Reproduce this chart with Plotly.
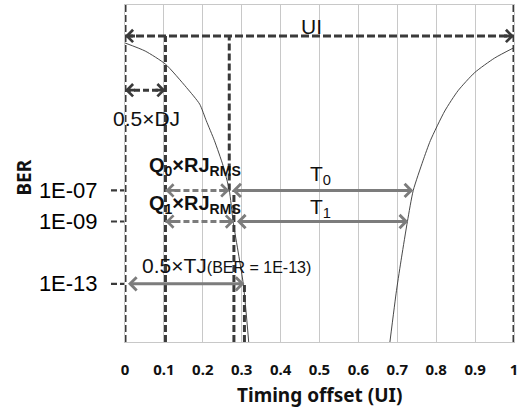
import plotly.graph_objects as go

# ---------------- data ----------------
# left bathtub branch (timing offset in UI, log10 BER – schematic scale)
left_x = [0.000, 0.052, 0.104, 0.158, 0.192, 0.209, 0.230, 0.252, 0.268, 0.278, 0.304, 0.318]
left_log = [2.47, 1.95, 1.11, -0.39, -1.46, -2.53, -3.81, -5.4, -6.97, -9.0, -13.0, -16.74]
# right bathtub branch
right_x = [0.681, 0.698, 0.711, 0.726, 0.741, 0.766, 0.785, 0.822, 0.856, 0.899, 0.95, 1.0]
right_log = [-16.74, -13.42, -11.29, -9.0, -7.0, -5.1, -3.8, -1.9, -0.6, 0.57, 1.5, 2.17]

x_ticks = [0, 0.1, 0.2, 0.3, 0.4, 0.5, 0.6, 0.7, 0.8, 0.9, 1.0]
x_tick_text = ["0", "0.1", "0.2", "0.3", "0.4", "0.5", "0.6", "0.7", "0.8", "0.9", "1"]
y_ticks = [-7, -9, -13]
y_tick_text = ["1E-07", "1E-09", "1E-13"]

y_range = [-16.74, 4.91]

# key positions (UI)
ui_level = 2.92           # level of the UI arrow
dj_level = -0.56          # level of the 0.5xDJ arrow
dj_x = 0.104              # 0.5 x DJ
q0_x = 0.268              # edge at BER 1E-07
q1_x = 0.280              # edge at BER 1E-09
tj_x = 0.307              # edge at BER 1E-13
t0_end = 0.741
t1_end = 0.728

DARK = "#3a3a3a"
GRAY = "#7c7c7c"
GRID = "#c8c8c8"

fig = go.Figure()
fig.add_trace(go.Scatter(x=left_x, y=left_log, mode="lines", line=dict(color="#333333", width=0.9, shape="spline", smoothing=0.6),
                         showlegend=False, hoverinfo="skip"))
fig.add_trace(go.Scatter(x=right_x, y=right_log, mode="lines", line=dict(color="#333333", width=0.9, shape="spline", smoothing=0.6),
                         showlegend=False, hoverinfo="skip"))

shapes = []
def vline(x, y0, y1, color=DARK, dash="7px,3px", width=3):
    shapes.append(dict(type="line", xref="x", yref="y", x0=x, x1=x, y0=y0, y1=y1,
                       line=dict(color=color, width=width, dash=dash)))
def hline(x0, x1, y, color=DARK, dash="8px,3px", width=3):
    shapes.append(dict(type="line", xref="x", yref="y", x0=x0, x1=x1, y0=y, y1=y,
                       line=dict(color=color, width=width, dash=dash)))

# vertical dashed markers
vline(0, y_range[0], y_range[1])
vline(1, y_range[0], y_range[1])
vline(dj_x, y_range[0], ui_level)
vline(q0_x, y_ticks[0], ui_level)
vline(q1_x, y_range[0], y_ticks[0])
vline(tj_x, y_range[0], y_ticks[2])

# dashed horizontal arrows (shafts)
hline(0, 1, ui_level)
hline(0, dj_x, dj_level, dash="6px,3px")
hline(dj_x, q0_x, y_ticks[0], color=GRAY, dash="6px,3px")
hline(dj_x, q1_x, y_ticks[1], color=GRAY, dash="6px,3px")

# dashed tick marks left of the axis
for yv in y_ticks:
    shapes.append(dict(type="line", xref="paper", yref="y", x0=-0.036, x1=-0.002, y0=yv, y1=yv,
                       line=dict(color=DARK, width=2.2, dash="6px,3px")))

annotations = []
def head(x, y, direction, color):
    # short arrow with chevron head pointing `direction` (+1 right, -1 left)
    annotations.append(dict(x=x, y=y, xref="x", yref="y", text=" ", showarrow=True,
                            ax=-13 * direction, ay=0, arrowhead=4, arrowsize=0.85,
                            arrowwidth=2.8, arrowcolor=color, standoff=0))
def solid_arrow(x0, x1, y, color=GRAY):
    annotations.append(dict(x=x1, y=y, ax=x0, ay=y, xref="x", yref="y", axref="x", ayref="y",
                            text=" ", showarrow=True, arrowhead=4, startarrowhead=4,
                            arrowside="end+start", arrowsize=0.85, startarrowsize=0.85,
                            arrowwidth=3, arrowcolor=color, standoff=0, startstandoff=0))

head(0, ui_level, -1, DARK)
head(1, ui_level, 1, DARK)
head(0, dj_level, -1, DARK)
head(dj_x, dj_level, 1, DARK)
head(dj_x, y_ticks[0], -1, GRAY)
head(q0_x, y_ticks[0], 1, GRAY)
head(dj_x, y_ticks[1], -1, GRAY)
head(q1_x, y_ticks[1], 1, GRAY)
solid_arrow(q0_x, t0_end, y_ticks[0])
solid_arrow(q1_x, t1_end, y_ticks[1])
solid_arrow(0, tj_x, y_ticks[2])

TXT = dict(family="Liberation Sans, Arial, sans-serif", size=21, color="#111111")
def label(x, y, text, size=21):
    annotations.append(dict(x=x, y=y, xref="x", yref="y", text=text, showarrow=False,
                            font=dict(TXT, size=size), xanchor="center", yanchor="middle"))

label(0.479, 3.5, "UI")
label(0.055, -2.37, "0.5×DJ")
label(0.181, -5.45, "<b>Q<sub>0</sub>×RJ<sub>RMS</sub></b>", size=20)
label(0.181, -7.9, "<b>Q<sub>1</sub>×RJ<sub>RMS</sub></b>", size=20)
label(0.503, -6.0, "T<sub>0</sub>")
label(0.503, -8.15, "T<sub>1</sub>")
label(0.262, -11.8, "0.5×TJ<span style='font-size:16px'>(BER = 1E-13)</span>")

# axis titles
annotations.append(dict(x=0.5, y=0, xref="paper", yref="paper", text="<b>Timing offset (UI)</b>",
                        showarrow=False, xanchor="center", yanchor="top", yshift=-38,
                        font=dict(family="Noto Sans, DejaVu Sans, sans-serif", size=19, color="#111111")))
annotations.append(dict(x=0, y=0.488, xref="paper", yref="paper", text="<b>BER</b>", textangle=-90,
                        showarrow=False, xanchor="center", yanchor="middle", xshift=-101,
                        font=dict(family="Noto Sans, DejaVu Sans, sans-serif", size=19, color="#111111")))

fig.update_layout(
    width=522, height=409,
    margin=dict(l=125, r=6, t=4, b=67, pad=0),
    paper_bgcolor="white", plot_bgcolor="white",
    shapes=shapes, annotations=annotations,
    xaxis=dict(range=[0, 1], tickvals=x_ticks, ticktext=x_tick_text, showgrid=True,
               gridcolor=GRID, gridwidth=1, showline=True, linecolor=GRID, linewidth=1, mirror=True,
               zeroline=False, ticks="", ticklabelstandoff=14,
               tickfont=dict(family="Noto Sans, DejaVu Sans, sans-serif", size=15, color="#111111", weight="bold")),
    yaxis=dict(range=y_range, tickvals=y_ticks, ticktext=y_tick_text, showgrid=False,
               showline=True, linecolor=GRID, mirror=True, zeroline=False, ticks="",
               ticklabelstandoff=22,
               tickfont=dict(family="Liberation Sans, Arial, sans-serif", size=22, color="#000000")),
)

fig.write_html("out.html")
